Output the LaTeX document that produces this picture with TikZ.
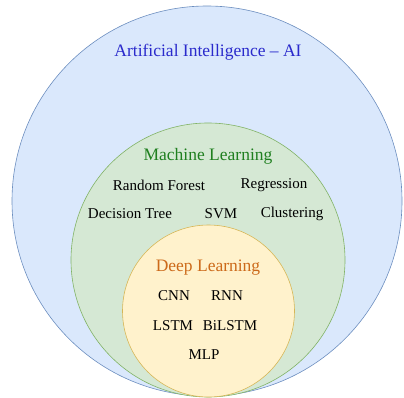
\documentclass[tikz,border=0pt]{standalone}
\usepackage{fontspec}
\setmainfont{Liberation Serif}
\usepackage{tikz}

\definecolor{aiFill}{HTML}{DAE8FC}
\definecolor{aiLine}{HTML}{6C8EBF}
\definecolor{mlFill}{HTML}{D5E8D4}
\definecolor{mlLine}{HTML}{82B366}
\definecolor{dlFill}{HTML}{FFF2CC}
\definecolor{dlLine}{HTML}{D6B656}
\definecolor{aiText}{HTML}{2A2ACC}
\definecolor{mlText}{HTML}{1F7F1F}
\definecolor{dlText}{HTML}{CC6A1A}

\begin{document}
\begin{tikzpicture}[x=1pt,y=-1pt,
	zona/.style={draw,circle,inner sep=0pt,line width=0.6pt},
	titulo/.style={font=\fontsize{17.5}{20}\selectfont},
	metodo/.style={font=\fontsize{15}{18}\selectfont,text=black}]
		\useasboundingbox (0,0) rectangle (404,398);

		%Zonas
		\node [zona,fill=aiFill,draw=aiLine,minimum size=390pt] (ai) at (207,201) {};
		\node [zona,fill=mlFill,draw=mlLine,minimum size=274pt] (ml) at (208,260) {};
		\node [zona,fill=dlFill,draw=dlLine,minimum size=172pt] (dl) at (208.5,311) {};

		%Titulos
		\node [titulo,text=aiText] (tituloAI) at (208,52) {Artificial Intelligence -- AI};
		\node [titulo,text=mlText] (tituloML) at (208,156) {Machine Learning};
		\node [titulo,text=dlText] (tituloDL) at (208,268) {Deep Learning};

		%Metodos ML
		\node [metodo] (rf) at (159,185) {Random Forest};
		\node [metodo] (reg) at (274,185) {Regression};
		\node [metodo] (dt) at (130,214) {Decision Tree};
		\node [metodo] (svm) at (221,214) {SVM};
		\node [metodo] (clus) at (292,214) {Clustering};

		%Metodos DL
		\node [metodo] (cnn) at (174,296) {CNN};
		\node [metodo] (rnn) at (227,296) {RNN};
		\node [metodo] (lstm) at (173,326) {LSTM};
		\node [metodo] (bilstm) at (230,326) {BiLSTM};
		\node [metodo] (mlp) at (204,355) {MLP};
\end{tikzpicture}
\end{document}
